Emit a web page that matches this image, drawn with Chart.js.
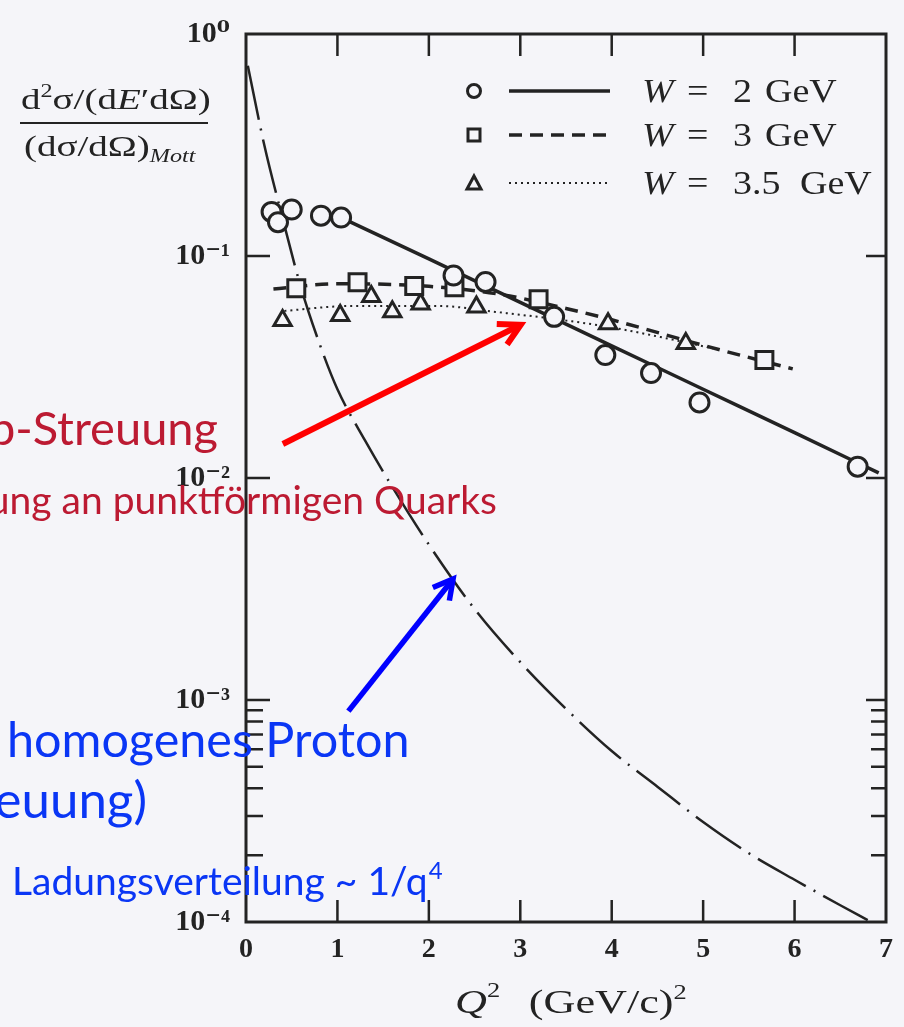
<!DOCTYPE html>
<html>
<head>
<meta charset="utf-8">
<script src="https://cdn.jsdelivr.net/npm/chart.js@4.4.0/dist/chart.umd.min.js"></script>
<style>
  html, body { margin: 0; padding: 0; background: #f5f5f9; }
  canvas { display: block; }
</style>
</head>
<body>
<canvas id="dis_chart" width="904" height="1027"></canvas>
<script>
// axis ticks
const xTickValues = [0, 1, 2, 3, 4, 5, 6, 7];
const yTickValues = [1e-4, 1e-3, 1e-2, 1e-1, 1];
const yTickLabels = ['10\u207B\u2074', '10\u207B\u00B3', '10\u207B\u00B2', '10\u207B\u00B9', '10\u2070'];
const yMinorTicks = [2e-4, 3e-4, 4e-4, 5e-4, 6e-4, 7e-4, 8e-4, 9e-4];

// measured points, W = 2 GeV (circles)
const q2W2 = [0.28, 0.35, 0.50, 0.82, 1.04, 2.27, 2.62, 3.37, 3.93, 4.43, 4.96, 6.69];
const sigmaW2 = [0.158, 0.142, 0.162, 0.152, 0.149, 0.0817, 0.0764, 0.0532, 0.0358, 0.0297, 0.0219, 0.01125];

// measured points, W = 3 GeV (squares)
const q2W3 = [0.55, 1.22, 1.84, 2.28, 3.20, 5.67];
const sigmaW3 = [0.0716, 0.0761, 0.0732, 0.0723, 0.0639, 0.0340];

// measured points, W = 3.5 GeV (triangles)
const q2W35 = [0.40, 1.03, 1.37, 1.60, 1.91, 2.52, 3.96, 4.81];
const sigmaW35 = [0.0512, 0.0539, 0.0657, 0.0561, 0.0608, 0.0589, 0.0495, 0.0404];

// curves through the data
const curveW2Q2 = [1.04, 2, 3, 4, 5, 6, 6.92];
const curveW2 = [0.149, 0.0971, 0.0618, 0.0394, 0.0251, 0.0160, 0.01054];
const curveW3Q2 = [0.3, 1.0, 2.0, 2.8, 3.5, 4.0, 5.0, 5.98];
const curveW3 = [0.071, 0.075, 0.073, 0.067, 0.058, 0.0516, 0.0396, 0.031];
const curveW35Q2 = [0.42, 1.13, 2.11, 2.73, 3.36, 3.96, 4.81, 5.11];
const curveW35 = [0.0566, 0.0595, 0.0595, 0.0560, 0.0521, 0.0480, 0.0408, 0.0383];

// elastic scattering off an extended proton (dash-dot)
const elasticQ2 = [0.02, 0.2, 0.4, 0.6, 0.8, 1.0, 1.3, 1.6, 2.0, 2.5, 3.0, 3.5, 4.0, 4.5, 5.0, 5.5, 6.0, 6.5, 6.8];
const elasticSigma = [0.719, 0.316, 0.148, 0.0724, 0.0407, 0.0251, 0.0148, 0.00912, 0.00501, 0.00257, 0.00148,
  0.000912, 0.000589, 0.000407, 0.000282, 0.000204, 0.000155, 0.000119, 0.000102];

const INK = '#232323';
const PAPER = '#f5f5f9';
const SERIF = '"Liberation Serif", "DejaVu Serif", serif';

function pts(xs, ys) {
  return xs.map(function(x, i) { return {x: x, y: ys[i]}; });
}

function lineSet(xs, ys, width, dash) {
  return {
    data: pts(xs, ys),
    borderColor: INK,
    borderWidth: width,
    borderDash: dash,
    pointRadius: 0,
    cubicInterpolationMode: 'monotone',
    fill: false,
    order: 2
  };
}

function markerSet(xs, ys, style, radius) {
  return {
    data: pts(xs, ys),
    showLine: false,
    pointStyle: style,
    pointRadius: radius,
    pointBorderWidth: 3,
    pointBorderColor: INK,
    pointBackgroundColor: PAPER,
    order: 0
  };
}

// text helper: runs of serif text, stretched horizontally like the printed figure
function serifRuns(ctx, runs, x, y, size, stretch) {
  ctx.save();
  ctx.translate(x, y);
  ctx.scale(stretch, 1);
  ctx.fillStyle = INK;
  ctx.textBaseline = 'alphabetic';
  ctx.textAlign = 'left';
  let cx = 0;
  runs.forEach(function(r) {
    const s = size * (r.scale || 1);
    ctx.font = (r.italic ? 'italic ' : '') + s + 'px ' + SERIF;
    ctx.fillText(r.t, cx, r.dy || 0);
    cx += ctx.measureText(r.t).width + (r.gap || 0);
  });
  ctx.restore();
}

function arrow(ctx, x1, y1, x2, y2, color, width, head) {
  ctx.save();
  ctx.strokeStyle = color;
  ctx.lineWidth = width;
  ctx.lineCap = 'butt';
  ctx.beginPath();
  ctx.moveTo(x1, y1);
  ctx.lineTo(x2, y2);
  ctx.stroke();
  const a = Math.atan2(y2 - y1, x2 - x1);
  ctx.lineJoin = 'miter';
  ctx.beginPath();
  ctx.moveTo(x2 - head * Math.cos(a - 0.5), y2 - head * Math.sin(a - 0.5));
  ctx.lineTo(x2, y2);
  ctx.lineTo(x2 - head * Math.cos(a + 0.5), y2 - head * Math.sin(a + 0.5));
  ctx.stroke();
  ctx.restore();
}

const paperPlugin = {
  id: 'paper',
  beforeDraw: function(chart) {
    const ctx = chart.ctx;
    ctx.save();
    ctx.fillStyle = PAPER;
    ctx.fillRect(0, 0, chart.width, chart.height);
    ctx.restore();
  }
};

// frame with inward ticks, legend, axis titles
const framePlugin = {
  id: 'frame',
  afterDatasetsDraw: function(chart) {
    const ctx = chart.ctx;
    const a = chart.chartArea;
    const xs = chart.scales.x, ys = chart.scales.y;
    ctx.save();
    ctx.strokeStyle = INK;
    ctx.lineWidth = 3;
    ctx.strokeRect(a.left, a.top, a.right - a.left, a.bottom - a.top);

    ctx.lineWidth = 2.5;
    ctx.beginPath();
    xTickValues.slice(1, -1).forEach(function(v) {
      const px = xs.getPixelForValue(v);
      ctx.moveTo(px, a.bottom); ctx.lineTo(px, a.bottom - 22);
      ctx.moveTo(px, a.top); ctx.lineTo(px, a.top + 22);
    });
    yTickValues.slice(1, -1).forEach(function(v) {
      const py = ys.getPixelForValue(v);
      ctx.moveTo(a.left, py); ctx.lineTo(a.left + 24, py);
      ctx.moveTo(a.right, py); ctx.lineTo(a.right - 20, py);
    });
    yMinorTicks.forEach(function(v) {
      const py = ys.getPixelForValue(v);
      ctx.moveTo(a.left, py); ctx.lineTo(a.left + 17, py);
      ctx.moveTo(a.right, py); ctx.lineTo(a.right - 15, py);
    });
    ctx.stroke();

    // legend
    const rows = [
      {y: 91, label: '2', gev: 765, marker: 'circle', dash: []},
      {y: 135, label: '3', gev: 765, marker: 'square', dash: [13, 8]},
      {y: 183, label: '3.5', gev: 800, marker: 'triangle', dash: [2, 4]}
    ];
    rows.forEach(function(r) {
      ctx.lineWidth = r.marker === 'triangle' ? 2 : 3.5;
      ctx.setLineDash(r.dash);
      ctx.beginPath();
      ctx.moveTo(509, r.y); ctx.lineTo(610, r.y);
      ctx.stroke();
      ctx.setLineDash([]);
      ctx.lineWidth = 3;
      ctx.beginPath();
      if (r.marker === 'circle') {
        ctx.arc(474, r.y, 6.5, 0, Math.PI * 2);
      } else if (r.marker === 'square') {
        ctx.rect(468, r.y - 6, 12, 12);
      } else {
        ctx.moveTo(474, r.y - 7); ctx.lineTo(481, r.y + 6); ctx.lineTo(467, r.y + 6); ctx.closePath();
      }
      ctx.stroke();
      serifRuns(ctx, [{t: 'W', italic: true}], 642, r.y + 11, 33, 1.15);
      serifRuns(ctx, [{t: '='}], 687, r.y + 11, 33, 1.15);
      serifRuns(ctx, [{t: r.label}], 733, r.y + 11, 33, 1.15);
      serifRuns(ctx, [{t: 'GeV'}], r.gev, r.y + 11, 33, 1.15);
    });

    // y quantity
    serifRuns(ctx, [
      {t: 'd'}, {t: '2', scale: 0.62, dy: -12}, {t: '\u03C3/(d'}, {t: 'E', italic: true},
      {t: '\u2032d\u03A9)'}
    ], 21, 109, 30, 1.3);
    ctx.lineWidth = 2;
    ctx.beginPath();
    ctx.moveTo(20, 123); ctx.lineTo(208, 123);
    ctx.stroke();
    serifRuns(ctx, [
      {t: '(d\u03C3/d\u03A9)'}, {t: 'Mott', italic: true, scale: 0.62, dy: 6}
    ], 24, 156, 30, 1.3);

    // x quantity
    serifRuns(ctx, [{t: 'Q', italic: true}, {t: '2', scale: 0.6, dy: -16, gap: 22}, {t: '(GeV/c)'}, {t: '2', scale: 0.6, dy: -14}],
      455, 1013, 34, 1.3);
    ctx.restore();
  }
};

// slide annotations over the figure
const notesPlugin = {
  id: 'notes',
  afterDraw: function(chart) {
    const ctx = chart.ctx;
    const xs = chart.scales.x, ys = chart.scales.y;
    const P = function(x, y) { return [xs.getPixelForValue(x), ys.getPixelForValue(y)]; };

    const r0 = P(0.403, 0.01423), r1 = P(3.005, 0.0490);
    arrow(ctx, r0[0], r0[1], r1[0], r1[1], '#ff0000', 6, 24);
    const b0 = P(1.12, 0.000891), b1 = P(2.265, 0.00351);
    arrow(ctx, b0[0], b0[1], b1[0], b1[1], '#0000ff', 5.5, 22);

    ctx.save();
    ctx.textBaseline = 'alphabetic';
    ctx.fillStyle = '#bc1a32';
    ctx.textAlign = 'right';
    ctx.font = '47px Lato';
    ctx.fillText('ep-Streuung', 218, 445);
    ctx.font = '39px Lato';
    ctx.fillText('Streuung an punktf\u00F6rmigen Quarks', 497, 514);

    ctx.fillStyle = '#0a36f5';
    ctx.textAlign = 'left';
    ctx.font = '48.5px Lato';
    ctx.fillText('homogenes Proton', 7, 757);
    ctx.textAlign = 'right';
    ctx.font = '51px Lato';
    ctx.fillText('(elastische Streuung)', 147, 818);
    ctx.textAlign = 'left';
    ctx.font = '39px Lato';
    const t = 'Ladungsverteilung ~ 1/q';
    ctx.fillText(t, 12, 895);
    const w = ctx.measureText(t).width;
    ctx.font = '24px Lato';
    ctx.fillText('4', 12 + w + 1, 879);
    ctx.restore();
  }
};

const chart = new Chart('dis_chart', {
  type: 'line',
  data: {
    datasets: [
      markerSet(q2W2, sigmaW2, 'circle', 9.5),
      markerSet(q2W3, sigmaW3, 'rect', 12),
      markerSet(q2W35, sigmaW35, 'triangle', 10),
      lineSet(curveW2Q2, curveW2, 3.5, []),
      lineSet(curveW3Q2, curveW3, 3.5, [13, 8]),
      lineSet(curveW35Q2, curveW35, 2, [2, 4]),
      lineSet(elasticQ2, elasticSigma, 2.5, [55, 9, 2, 9])
    ]
  },
  options: {
    responsive: false,
    animation: false,
    layout: { padding: { top: 21, right: 15, left: 0, bottom: 0 } },
    plugins: { legend: { display: false }, tooltip: { enabled: false } },
    scales: {
      x: {
        type: 'linear', min: 0, max: 7,
        grid: { display: false, drawTicks: false },
        border: { display: false },
        ticks: {
          stepSize: 1, padding: 11, maxRotation: 0, color: INK,
          font: { family: SERIF, size: 28, weight: 'bold' }
        },
        afterFit: function(s) { s.height = 105; }
      },
      y: {
        type: 'logarithmic', min: 1e-4, max: 1,
        grid: { display: false, drawTicks: false },
        border: { display: false },
        afterBuildTicks: function(s) { s.ticks = yTickValues.map(function(v) { return {value: v}; }); },
        ticks: {
          padding: 16, color: INK,
          font: { family: SERIF, size: 30, weight: 'bold' },
          callback: function(v, i) { return yTickLabels[i]; }
        },
        afterFit: function(s) { s.width = 246; }
      }
    }
  },
  plugins: [paperPlugin, framePlugin, notesPlugin]
});
</script>
</body>
</html>
